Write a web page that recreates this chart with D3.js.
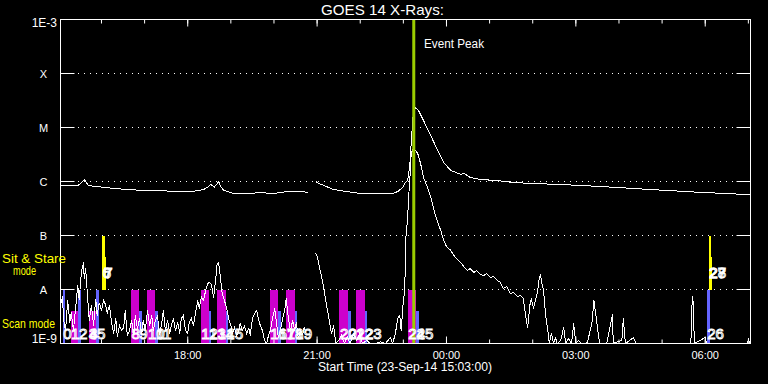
<!DOCTYPE html>
<html><head><meta charset="utf-8">
<script src="https://cdn.jsdelivr.net/npm/d3@7"></script>
<style>
html,body{margin:0;padding:0;background:#000;}
svg{display:block;background:#000;}
text{font-family:"Liberation Sans",Arial,sans-serif;}
</style></head><body>
<svg id="chart" width="768" height="384"></svg>
<script>
// ---------------- data ----------------
const chartTitle = "GOES 14 X-Rays:";
const xAxisTitle = "Start Time (23-Sep-14 15:03:00)";
const startTime = "2014-09-23T15:03:00Z";
const endTime = "2014-09-24T07:03:00Z";
const eventPeakTime = "2014-09-23T23:14:30Z";
const eventLabel = "Event Peak";

const yTickFlux = [1e-3, 1e-4, 1e-5, 1e-6, 1e-7, 1e-8, 1e-9];
const yTickLabels = ["1E-3", "X", "M", "C", "B", "A", "1E-9"];

// GOES long channel (1-8 A): [minutes after start, flux W/m^2], null = data gap
const longSeries = [[0,8.4e-7],[14,8.4e-7],[24,8.4e-7],[28,9.2e-7],[33,1.09e-6],[36,9.6e-7],[39,8.4e-7],[56,7.9e-7],[77,7.4e-7],[93,7.1e-7],
[118,6.8e-7],[139,6.8e-7],[160,6.5e-7],[185,6.6e-7],[199,7.1e-7],[205,7.9e-7],[209,8.8e-7],[211,8.4e-7],[214,7.9e-7],[217,8.8e-7],
[220,1.0e-6],[223,8.1e-7],[227,6.9e-7],[241,6.0e-7],[260,5.9e-7],[278,6.3e-7],[296,5.9e-7],[306,6.3e-7],[316,6.5e-7],[334,6.5e-7],
[345,6.3e-7],[350,null],[355,1.0e-6],[359,9.2e-7],[366,8.5e-7],[380,7.1e-7],[399,6.5e-7],[417,6.0e-7],[441,5.9e-7],[463,6.0e-7],
[470,6.6e-7],[474,7.4e-7],[477,8.1e-7],[480,9.6e-7],[483,1.04e-6],[486,1.98e-6],[487,3.3e-6],[490,1.35e-5],[491,1.9e-5],[494,2.35e-5],
[498,2.07e-5],[505,1.35e-5],[515,7.1e-6],[525,3.75e-6],[533,2.25e-6],[543,1.6e-6],[557,1.35e-6],[561,1.42e-6],[570,1.19e-6],[584,1.09e-6],
[608,1.04e-6],[630,9.6e-7],[654,9.2e-7],[696,8.8e-7],[751,8.1e-7],[821,7.1e-7],[890,6.3e-7],[960,5.7e-7]];

// GOES short channel (0.5-4 A): [minutes after start, flux W/m^2], null = data gap
const shortSeries = [[0,5.1e-9],[3,7.4e-9],[4,2.9e-9],[7,1.74e-9],[10,6.3e-9],[13,2.45e-9],[15,3.75e-9],[18,1.74e-9],[21,4.45e-9],[24,1.19e-8],
[26,6.3e-9],[29,2.07e-8],[32,3.16e-8],[33,1.6e-8],[35,2.45e-8],[38,6.3e-9],[40,2.67e-9],[43,5.1e-9],[46,2.15e-9],[49,6.8e-9],
[51,3.3e-9],[54,5.7e-9],[57,4.1e-9],[60,6.3e-9],[63,5.1e-9],[65,3.6e-9],[68,5.1e-9],[71,2.45e-9],[74,1.53e-9],[77,2.9e-9],
[79,1.35e-9],[82,2.15e-9],[85,1.74e-9],[88,1.98e-9],[90,4.1e-9],[93,1.41e-9],[96,1.74e-9],[99,2.67e-9],[102,1.41e-9],[104,3.3e-9],
[107,1.9e-9],[110,2.9e-9],[113,1.41e-9],[115,2.67e-9],[118,1.74e-9],[121,4.1e-9],[124,2.15e-9],[127,3.3e-9],[129,1.74e-9],[132,2.67e-9],
[135,3.16e-9],[138,1.47e-9],[141,2.45e-9],[143,4.1e-9],[146,1.74e-9],[149,2.67e-9],[152,1.53e-9],[154,2.07e-9],[157,2.9e-9],[160,1.74e-9],
[163,2.45e-9],[166,1.53e-9],[168,2.9e-9],[171,3.3e-9],[174,1.74e-9],[177,1.53e-9],[179,2.45e-9],[182,2.9e-9],[185,2.15e-9],[188,3.75e-9],
[191,6.3e-9],[193,4.45e-9],[196,7.4e-9],[199,6.3e-9],[202,9.6e-9],[205,1.29e-8],[207,1.35e-8],[210,1.24e-8],[213,7.1e-9],[216,1.6e-8],
[218,3.03e-8],[220,3.16e-8],[223,1.47e-8],[225,8.4e-9],[228,6.3e-9],[231,4.6e-9],[234,2.9e-9],[237,2.15e-9],[239,1.53e-9],[242,1.98e-9],
[245,1.41e-9],[248,1.74e-9],[250,2.35e-9],[253,1.74e-9],[256,2.07e-9],[259,1.53e-9],[262,1.9e-9],[264,1.41e-9],[267,2.9e-9],[270,3.6e-9],
[273,4.1e-9],[275,3.0e-9],[278,2.15e-9],[281,1.74e-9],[284,1.14e-9],[287,8e-10],[289,1.35e-9],[292,1.74e-9],[295,2.9e-9],[298,4.45e-9],
[301,2.15e-9],[303,1.29e-9],[306,1.74e-9],[309,2.9e-9],[312,4.1e-9],[314,6.8e-9],[317,2.9e-9],[320,1.74e-9],[323,2.67e-9],[326,1.74e-9],
[328,2.45e-9],[331,1.24e-9],[334,1.74e-9],[337,1.47e-9],[339,1.98e-9],[342,1.53e-9],[348,null],[355,4.8e-8],[358,3.75e-8],[360,2.67e-8],
[363,1.82e-8],[366,1.09e-8],[369,6.3e-9],[371,4.45e-9],[374,2.67e-9],[377,1.53e-9],[380,2.15e-9],[383,8e-10],[387,1.14e-9],[391,1.41e-9],
[395,8e-10],[399,1.35e-9],[403,8e-10],[408,1.53e-9],[412,1.14e-9],[416,1.53e-9],[420,8e-10],[426,1.14e-9],[431,8e-10],[438,8e-10],
[445,1.07e-9],[452,8e-10],[459,1.29e-9],[462,8e-10],[466,1.53e-9],[469,2.9e-9],[472,3.3e-9],[474,1.74e-9],[477,6.3e-9],[479,9.6e-9],
[480,5.3e-8],[481,1.24e-7],[483,1.9e-7],[484,4.45e-7],[486,1.04e-6],[487,1.98e-6],[488,3.44e-6],[490,3.75e-6],[491,4.1e-6],[494,3.75e-6],
[497,3.3e-6],[501,2.15e-6],[505,1.19e-6],[509,8.8e-7],[512,6.8e-7],[516,4.8e-7],[519,3.16e-7],[522,2.25e-7],[525,1.74e-7],[529,1.24e-7],
[533,8.1e-8],[537,6.3e-8],[543,5.3e-8],[547,4.3e-8],[551,3.75e-8],[557,3.16e-8],[561,2.67e-8],[566,2.25e-8],[570,2.45e-8],[575,2.07e-8],
[579,2.25e-8],[584,1.9e-8],[589,1.82e-8],[593,1.98e-8],[598,1.67e-8],[602,1.74e-8],[608,1.47e-8],[612,1.35e-8],[616,1.04e-8],[621,1.14e-8],
[626,8.4e-9],[630,8.8e-9],[636,7.4e-9],[640,7.7e-9],[644,6.8e-9],[647,3.3e-9],[650,1.98e-9],[653,5.1e-9],[655,6.8e-9],[658,4.6e-9],
[661,6.3e-9],[664,9.6e-9],[666,1.6e-8],[668,1.9e-8],[669,1.47e-8],[672,9.6e-9],[675,3.3e-9],[678,1.74e-9],[680,8e-10],[683,1.53e-9],
[686,8e-10],[689,1.29e-9],[691,8e-10],[696,1.14e-9],[700,1.98e-9],[703,8e-10],[707,1.24e-9],[711,8e-10],[714,2.35e-9],[717,8e-10],
[721,1.14e-9],[725,8e-10],[729,8e-10],[733,1.05e-9],[737,1.74e-9],[740,2.67e-9],[742,6.5e-9],[744,4.1e-9],[747,1.98e-9],[750,8e-10],
[760,8e-10],[768,3.45e-9],[769,8e-10],[781,1.14e-9],[783,2.9e-9],[786,8e-10],[797,1.29e-9],[801,8e-10],[877,8e-10],[878,2.67e-9],
[879,7.7e-9],[880,6.3e-9],[882,8e-10],[897,1.29e-9],[899,8e-10],[956,8e-10],[957,1.19e-9],[959,8e-10],[960,8e-10]];

// observations (numbered)
const obsLabels = ["0","1","2","3","4","5","6","7","8","9","10","11","12","13","14","15","16","17","18","19","20","21","22","23","24","25","26","27","28"];
const obsStart = ["15:06","15:17","15:28","15:42","15:42","15:53","16:01","16:03","16:41","16:52","17:04","17:15","18:18","18:29","18:41","18:53","19:54","20:06","20:17","20:29","21:31","21:43","21:54","22:06","23:06","23:18","06:02","06:05","06:05"];
const obsEnd   = ["15:09","15:28","15:31","15:53","15:53","15:57","16:05","16:06","16:52","16:57","17:15","17:19","18:29","18:33","18:53","18:56","20:06","20:10","20:29","20:32","21:43","21:47","22:06","22:10","23:18","23:22","06:06","06:08","06:09"];
const obsMode  = ["scan","scan","scan","scan","scan","scan","sit","sit","scan","scan","scan","scan","scan","scan","scan","scan","scan","scan","scan","scan","scan","scan","scan","scan","scan","scan","scan","sit","sit"];
const obsType  = ["b","m","b","m","m","b","y","y","m","b","m","b","m","b","m","b","m","b","m","b","m","b","m","b","m","b","b","y","y"];
const obsFull  = [1,0,1,0,0,1,1,0,1,0,1,0,1,0,1,0,1,0,1,0,1,0,1,0,1,0,1,1,0];

// ---------------- chart ----------------
const svg = d3.select("#chart");
const L = 60.5, R = 750.5, T = 19.5, B = 343.5;
const x = d3.scaleUtc().domain([new Date(startTime), new Date(endTime)]).range([L, R]);
const y = d3.scaleLog().domain([1e-9, 1e-3]).range([B, T]).clamp(true);
const t0 = +new Date(startTime);
const tm = m => new Date(t0 + m * 60000);
const obsDate = s => { const [h, m] = s.split(":").map(Number); return new Date(Date.UTC(2014, 8, h >= 15 ? 23 : 24, h, m)); };
const typeColor = { m: "#cc00cc", b: "#6464ff", y: "#ffff00" };
const bands = { scan: [1e-9, 1e-8], sit: [1e-8, 1e-7] };

svg.append("defs").append("clipPath").attr("id", "clip")
  .append("rect").attr("x", L).attr("y", T).attr("width", R - L).attr("height", B - T);

// dotted level lines
svg.append("g").attr("shape-rendering", "crispEdges").selectAll("line").data(yTickFlux.slice(1, -1)).join("line")
  .attr("x1", L - 0.5).attr("x2", R).attr("y1", d => y(d)).attr("y2", d => y(d))
  .attr("stroke", "#fff").attr("stroke-width", 1).attr("stroke-dasharray", "1 5");

// observation bars
const obs = obsLabels.map((l, i) => ({ label: l, s: obsDate(obsStart[i]), e: obsDate(obsEnd[i]), mode: obsMode[i], type: obsType[i], full: obsFull[i] }));
const barTop = d => { const [lo, hi] = bands[d.mode]; return y(d.full ? hi : lo * Math.pow(hi / lo, 0.61)); };
svg.append("g").attr("shape-rendering", "crispEdges").selectAll("rect").data(obs).join("rect")
  .attr("x", d => x(d.s)).attr("width", d => x(d.e) - x(d.s))
  .attr("y", barTop)
  .attr("height", d => y(bands[d.mode][0]) - barTop(d))
  .attr("fill", d => typeColor[d.type]);

// curves
const line = d3.line().defined(d => d[1] != null).x(d => x(tm(d[0]))).y(d => y(d[1]));
const cg = svg.append("g").attr("clip-path", "url(#clip)");
[longSeries, shortSeries].forEach(s => cg.append("path").attr("d", line(s))
  .attr("fill", "none").attr("stroke", "#fff").attr("stroke-width", 1).attr("shape-rendering", "crispEdges"));

// event peak line
svg.append("line").attr("x1", x(new Date(eventPeakTime))).attr("x2", x(new Date(eventPeakTime)))
  .attr("y1", T).attr("y2", B).attr("stroke", "#9acd00").attr("stroke-width", 3);
svg.append("text").attr("x", 424).attr("y", 48).attr("fill", "#fff").attr("font-size", 12)
  .attr("textLength", 60).attr("lengthAdjust", "spacingAndGlyphs").text(eventLabel);

// observation labels
svg.append("g").selectAll("text").data(obs).join("text")
  .attr("x", d => x(d.s) + 0.5)
  .attr("y", d => d.mode === "scan" ? y(bands.scan[0]) - 4.5 : y(bands.sit[0]) - 12)
  .attr("font-size", 15).attr("fill", "none").attr("stroke", "#fff").attr("stroke-width", 1)
  .text(d => d.label);

// axes
function styleAxis(g) { g.select(".domain").remove(); g.selectAll("line").attr("stroke", "#fff"); g.selectAll("text").attr("fill", "#fff").attr("font-size", 11).attr("font-family", "Liberation Sans, Arial, sans-serif"); }
svg.append("g").attr("transform", `translate(0,${B})`)
  .call(d3.axisBottom(x).ticks(d3.utcHour.every(1)).tickSize(-4).tickFormat("").offset(0)).call(styleAxis);
svg.append("g").attr("transform", `translate(0,${B})`)
  .call(d3.axisBottom(x).ticks(d3.utcHour.every(3)).tickSize(-7).tickPadding(8).tickFormat(d3.utcFormat("%H:%M")).offset(0)).call(styleAxis);
svg.append("g").attr("transform", `translate(0,${T})`)
  .call(d3.axisTop(x).ticks(d3.utcHour.every(1)).tickSize(-4).tickFormat("").offset(0)).call(styleAxis);
svg.append("g").attr("transform", `translate(0,${T})`)
  .call(d3.axisTop(x).ticks(d3.utcHour.every(3)).tickSize(-7).tickFormat("").offset(0)).call(styleAxis);
svg.append("g").attr("transform", `translate(${L},0)`)
  .call(d3.axisLeft(y).tickValues(yTickFlux.slice(1, -1)).tickSize(-14).tickFormat("").offset(0)).call(styleAxis);
svg.append("g").attr("transform", `translate(${R},0)`)
  .call(d3.axisRight(y).tickValues(yTickFlux.slice(1, -1)).tickSize(-14).tickFormat("").offset(0)).call(styleAxis);

// frame
svg.append("rect").attr("x", L).attr("y", T).attr("width", R - L).attr("height", B - T)
  .attr("fill", "none").attr("stroke", "#fff").attr("stroke-width", 1).attr("shape-rendering", "crispEdges");

// y labels
svg.append("g").selectAll("text").data(yTickFlux).join("text")
  .attr("x", (d, i) => yTickLabels[i].startsWith("1E") ? 57 : 43.5)
  .attr("y", (d, i) => i === 0 ? y(d) + 7.5 : (i === yTickFlux.length - 1 ? y(d) - 0.5 : y(d) + 4))
  .attr("text-anchor", (d, i) => yTickLabels[i].startsWith("1E") ? "end" : "middle")
  .attr("font-size", (d, i) => yTickLabels[i].startsWith("1E") ? 12 : 11)
  .attr("fill", "#fff").text((d, i) => yTickLabels[i]);

// mode labels
const modeText = [["Sit & Stare", 2, 263, 64], ["mode", 13, 275, 23], ["Scan mode", 2, 328, 53]];
svg.append("g").selectAll("text").data(modeText).join("text")
  .attr("x", d => d[1]).attr("y", d => d[2]).attr("textLength", d => d[3]).attr("lengthAdjust", "spacingAndGlyphs")
  .attr("font-size", 13).attr("fill", "#ffff00").text(d => d[0]);

// titles
svg.append("text").attr("x", 321).attr("y", 15).attr("font-size", 15).attr("fill", "#fff")
  .attr("textLength", 123).attr("lengthAdjust", "spacingAndGlyphs").text(chartTitle);
svg.append("text").attr("x", 318).attr("y", 371).attr("font-size", 12).attr("fill", "#fff")
  .attr("textLength", 174).attr("lengthAdjust", "spacingAndGlyphs").text(xAxisTitle);
</script>
</body></html>
